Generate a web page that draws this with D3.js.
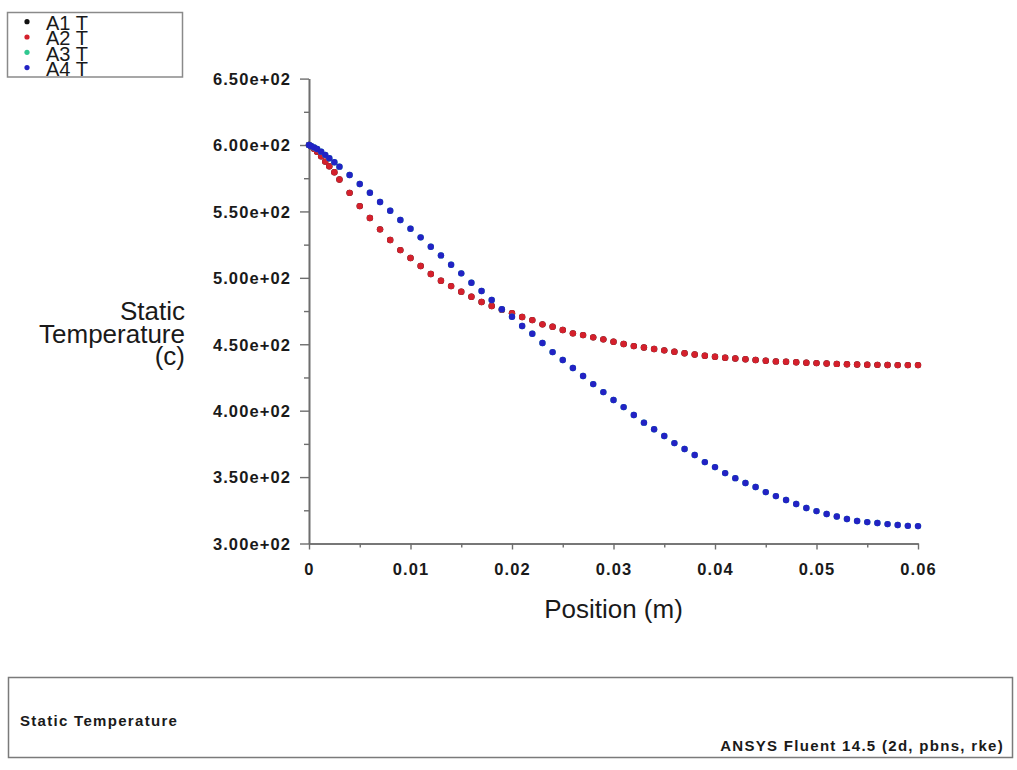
<!DOCTYPE html>
<html>
<head>
<meta charset="utf-8">
<script src="https://cdn.jsdelivr.net/npm/d3@7"></script>
<style>
  html, body { margin: 0; padding: 0; background: #fff; }
  svg { display: block; }
  text { font-family: Arial, "Liberation Sans", sans-serif; fill: #1a1a1a; }
</style>
</head>
<body>
<svg id="chart" width="1017" height="770"></svg>
<script>
// Sample positions along the line (m); nodes are refined close to x = 0
const positions = [
  0, 0.0002, 0.0005, 0.0008, 0.0012, 0.0016, 0.002, 0.0025,
  0.003, 0.004, 0.005, 0.006, 0.007, 0.008, 0.009, 0.010, 0.011, 0.012,
  0.013, 0.014, 0.015, 0.016, 0.017, 0.018, 0.019, 0.020, 0.021, 0.022,
  0.023, 0.024, 0.025, 0.026, 0.027, 0.028, 0.029, 0.030, 0.031, 0.032,
  0.033, 0.034, 0.035, 0.036, 0.037, 0.038, 0.039, 0.040, 0.041, 0.042,
  0.043, 0.044, 0.045, 0.046, 0.047, 0.048, 0.049, 0.050, 0.051, 0.052,
  0.053, 0.054, 0.055, 0.056, 0.057, 0.058, 0.059, 0.060
];

// Static temperature (c) on lines A2 and A4
const tempA2 = [
  600.0, 599.0, 597.2, 595.0, 591.5, 587.5, 584.0, 579.5,
  574.0, 564.0, 554.0, 545.0, 536.5, 528.5, 520.9, 514.9, 508.9, 502.9,
  497.8, 493.8, 489.6, 485.8, 481.8, 478.8, 476.0, 473.3, 470.5, 468.2,
  465.0, 463.2, 460.7, 458.2, 456.9, 455.2, 453.7, 451.9, 450.2, 448.6,
  447.6, 446.4, 445.4, 444.4, 443.2, 442.3, 441.3, 440.6, 439.8, 439.3,
  438.7, 438.1, 437.6, 437.1, 436.8, 436.5, 436.1, 435.8, 435.5, 435.2,
  435.0, 434.8, 434.6, 434.5, 434.4, 434.3, 434.3, 434.3
];
const tempA4 = [
  600.0, 599.3, 598.2, 597.0, 595.0, 592.6, 590.0, 587.0,
  583.7, 577.4, 570.6, 564.1, 557.1, 550.5, 543.5, 537.0, 530.5, 523.4,
  516.9, 509.9, 503.4, 496.3, 490.1, 483.3, 476.3, 470.7, 463.7, 457.9,
  450.9, 444.1, 438.1, 432.1, 426.1, 420.0, 414.0, 408.0, 402.7, 396.7,
  391.0, 386.0, 380.9, 375.6, 371.1, 366.6, 361.3, 357.5, 353.0, 349.2,
  345.5, 342.5, 338.7, 335.7, 332.7, 329.7, 326.7, 324.4, 322.2, 320.3,
  318.4, 316.9, 316.1, 315.4, 314.6, 313.9, 313.3, 313.1
];
// Lines A1 and A3 give the same profiles as A2 and A4 and sit underneath them
const tempA1 = tempA2;
const tempA3 = tempA4;

const seriesNames = ["A1 T", "A2 T", "A3 T", "A4 T"];
const seriesColors = ["#111111", "#d4202c", "#30c890", "#2222c4"];
const seriesValues = [tempA1, tempA2, tempA3, tempA4];

const xTicks = [0, 0.01, 0.02, 0.03, 0.04, 0.05, 0.06];
const xTickLabels = ["0", "0.01", "0.02", "0.03", "0.04", "0.05", "0.06"];
const xMinorTicks = [0.005, 0.015, 0.025, 0.035, 0.045, 0.055];
const yTicks = [300, 350, 400, 450, 500, 550, 600, 650];
const yTickLabels = ["3.00e+02", "3.50e+02", "4.00e+02", "4.50e+02",
                     "5.00e+02", "5.50e+02", "6.00e+02", "6.50e+02"];
const yMinorTicks = [325, 375, 425, 475, 525, 575, 625];

const svg = d3.select("#chart");

const x = d3.scaleLinear().domain([0, 0.06]).range([309, 918]);
const y = d3.scaleLinear().domain([300, 650]).range([543.5, 78.6]);

const axisColor = "#6e6e6e";
const tickFont = "16.5px";
const tickSpacing = "1.1px";

// y axis: major and minor ticks pointing outward
const yAxis = svg.append("g").attr("transform", "translate(309,0)");
yAxis.call(d3.axisLeft(y).tickValues(yTicks).tickSize(9).tickSizeOuter(0)
    .tickFormat((d, i) => yTickLabels[i]).tickPadding(9));
yAxis.append("g").call(d3.axisLeft(y).tickValues(yMinorTicks).tickSize(5)
    .tickSizeOuter(0).tickFormat(""));
yAxis.selectAll("path.domain").attr("stroke", axisColor).attr("stroke-width", 1.6);
yAxis.selectAll(".tick line").attr("stroke", axisColor).attr("stroke-width", 1.4);
yAxis.selectAll(".tick text")
  .attr("font-size", tickFont).attr("letter-spacing", tickSpacing)
  .attr("font-family", "Arial, 'Liberation Sans', sans-serif")
  .attr("fill", "#1e1e1e").attr("font-weight", "bold").attr("dy", "0.35em");

// x axis
const xAxis = svg.append("g").attr("transform", "translate(0,543.5)");
xAxis.call(d3.axisBottom(x).tickValues(xTicks).tickSize(6).tickSizeOuter(0)
    .tickFormat((d, i) => xTickLabels[i]).tickPadding(14));
xAxis.append("g").call(d3.axisBottom(x).tickValues(xMinorTicks).tickSize(4)
    .tickSizeOuter(0).tickFormat(""));
xAxis.selectAll("path.domain").attr("stroke", axisColor).attr("stroke-width", 1.6);
xAxis.selectAll(".tick line").attr("stroke", axisColor).attr("stroke-width", 1.4);
xAxis.selectAll(".tick text")
  .attr("font-size", tickFont).attr("letter-spacing", tickSpacing)
  .attr("font-family", "Arial, 'Liberation Sans', sans-serif")
  .attr("fill", "#1e1e1e").attr("font-weight", "bold");

// Axis titles
svg.append("text")
  .attr("x", 613.5).attr("y", 618)
  .attr("text-anchor", "middle").attr("font-size", "26px")
  .text("Position (m)");

const yTitle = ["Static", "Temperature", "(c)"];
svg.append("g").selectAll("text").data(yTitle).join("text")
  .attr("x", 185).attr("y", (d, i) => 320 + i * 22.5)
  .attr("text-anchor", "end").attr("font-size", "26px")
  .text(d => d);

// Data points
const plot = svg.append("g");
seriesValues.forEach((vals, s) => {
  plot.append("g").selectAll("circle").data(positions).join("circle")
    .attr("cx", d => x(d))
    .attr("cy", (d, i) => y(vals[i]))
    .attr("r", 3.2)
    .attr("fill", seriesColors[s]);
});

// Legend (entries are packed tightly, as the solver draws them)
const legend = svg.append("g");
legend.append("rect")
  .attr("x", 7.5).attr("y", 12.5).attr("width", 175).attr("height", 64.5)
  .attr("fill", "none").attr("stroke", "#8a8a8a").attr("stroke-width", 1.5);
seriesNames.forEach((name, i) => {
  legend.append("circle")
    .attr("cx", 27).attr("cy", 21.7 + i * 15.3).attr("r", 2.6)
    .attr("fill", seriesColors[i]);
  legend.append("text")
    .attr("x", 46).attr("y", 29.5 + i * 15.5)
    .attr("font-size", "20px")
    .text(name);
});

// Title box
const info = svg.append("g");
info.append("rect")
  .attr("x", 8.5).attr("y", 677.5).attr("width", 1004).attr("height", 80)
  .attr("fill", "none").attr("stroke", "#7a7a7a").attr("stroke-width", 1.5);
info.append("text")
  .attr("x", 20).attr("y", 726)
  .attr("font-size", "15px").attr("font-weight", "bold").attr("letter-spacing", "1.3px")
  .text("Static Temperature");
info.append("text")
  .attr("x", 1004).attr("y", 751).attr("text-anchor", "end")
  .attr("font-size", "15px").attr("font-weight", "bold").attr("letter-spacing", "1.3px")
  .text("ANSYS Fluent 14.5 (2d, pbns, rke)");
</script>
</body>
</html>
